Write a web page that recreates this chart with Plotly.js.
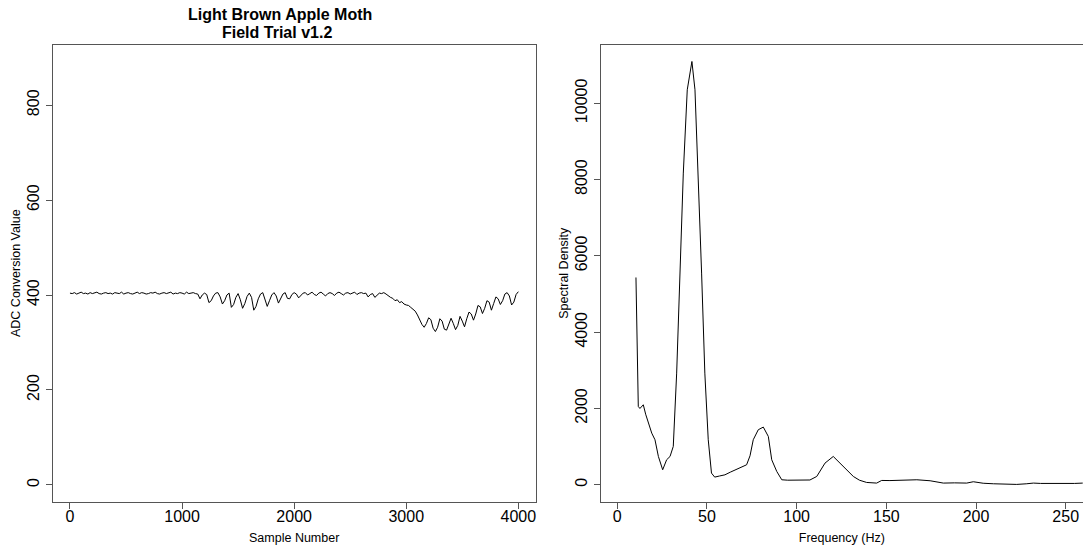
<!DOCTYPE html>
<html>
<head>
<meta charset="utf-8">
<script src="https://cdn.plot.ly/plotly-3.0.1.min.js"></script>
<style>html,body{margin:0;padding:0;background:#fff;}#chart{width:1083px;height:550px;}</style>
</head>
<body>
<div id="chart"></div>
<script>
// Left panel: ADC conversion value per sample
const sampleNumber = [
0,20,40,60,80,100,120,140,160,180,200,220,240,260,280,300,320,340,360,380,
400,420,440,460,480,500,520,540,560,580,600,620,640,660,680,700,720,740,760,780,
800,820,840,860,880,900,920,940,960,980,1000,1020,1040,1060,1080,1100,1120,1140,1160,1180,
1200,1220,1240,1260,1280,1300,1320,1340,1360,1380,1400,1420,1440,1460,1480,1500,1520,1540,1560,1580,
1600,1620,1640,1660,1680,1700,1720,1740,1760,1780,1800,1820,1840,1860,1880,1900,1920,1940,1960,1980,
2000,2020,2040,2060,2080,2100,2120,2140,2160,2180,2200,2220,2240,2260,2280,2300,2320,2340,2360,2380,
2400,2420,2440,2460,2480,2500,2520,2540,2560,2580,2600,2620,2640,2660,2680,2700,2720,2740,2760,2780,
2800,2820,2840,2860,2880,2900,2920,2940,2960,2980,3000,3020,3040,3060,3080,3100,3120,3140,3160,3180,
3200,3220,3240,3260,3280,3300,3320,3340,3360,3380,3400,3420,3440,3460,3480,3500,3520,3540,3560,3580,
3600,3620,3640,3660,3680,3700,3720,3740,3760,3780,3800,3820,3840,3860,3880,3900,3920,3940,3960,3980,
4000
];
const adcValue = [
404,403,405,402,404,406,403,404,402,405,403,404,406,403,402,404,405,403,404,402,
405,404,403,406,402,404,405,403,402,404,406,403,405,404,402,403,405,404,406,403,
402,404,405,403,404,406,402,404,403,405,404,402,406,403,404,405,403,402,392,400,
404,401,384,388,398,404,405,396,381,388,400,404,374,380,395,403,390,372,382,397,
404,395,368,376,392,402,405,390,376,388,400,405,398,383,392,402,405,393,392,401,
405,402,394,398,404,405,400,403,406,401,399,404,406,402,398,403,405,403,399,404,
406,403,400,404,405,402,404,406,401,404,405,403,404,396,401,403,395,400,404,403,
405,402,398,395,393,388,390,384,386,381,379,378,374,370,366,358,348,338,332,340,
352,348,330,323,332,350,345,328,326,340,351,340,327,336,355,345,333,350,364,360,
347,360,378,375,361,372,388,385,368,382,396,392,380,388,402,405,398,379,385,401,
407
];

// Right panel: spectral density per frequency
const frequencyHz = [
10.4,10.9,11.7,12.6,14.5,15.8,17.3,19.2,21.0,22.9,25.3,27.5,29.4,31.2,33.1,35.0,36.8,39.0,41.6,43.3,
45.1,47.0,48.8,50.7,52.5,54.3,57,60,63,66,68.4,70,72.1,74,75.8,78.6,81.4,84.2,86.1,88.9,
91.7,95,100,104,107.4,111.2,115.8,120.4,126,131.6,135,139,144.6,147.4,152,157.6,162,167,174.4,181.8,
188,194.8,198.5,204,209.7,216,222.7,228,232,236,241,245,250,255,259.5
];
const spectralDensity = [
5434,3600,2053,2000,2097,1850,1617,1354,1180,742,393,655,742,1005,2927,5549,8170,10354,11096,10354,
8170,5549,2927,1180,306,201,230,260,330,400,437,480,524,760,1180,1442,1512,1267,655,349,
131,120,115,118,125,218,568,742,480,218,120,61,44,113,110,113,125,131,105,44,
50,44,79,40,26,20,9,25,44,35,30,28,30,35,44
];

const leftTicks = [0,1000,2000,3000,4000];
const leftYTicks = [0,200,400,600,800];
const rightTicks = [0,50,100,150,200,250];
const rightYTicks = [0,2000,4000,6000,8000,10000];
const rightYTickText = ['0','2000','4000','6000','8000','10000'];

const FONT = 'Liberation Sans, Arial, Helvetica, sans-serif';
const W = 1083, H = 550;
const yDom = [(H-501.7)/H, (H-44.7)/H];

const axisCommon = {
  showgrid:false, zeroline:false, showline:true, linecolor:'#555', linewidth:1,
  ticks:'outside', ticklen:6, tickcolor:'#555', tickwidth:1,
  tickfont:{family:FONT, size:16, color:'#000'}, automargin:false, fixedrange:true
};

const traces = [
  {x:sampleNumber, y:adcValue, type:'scatter', mode:'lines', line:{color:'#000', width:1}, xaxis:'x', yaxis:'y', hoverinfo:'skip'},
  {x:frequencyHz, y:spectralDensity, type:'scatter', mode:'lines', line:{color:'#000', width:1}, xaxis:'x2', yaxis:'y2', hoverinfo:'skip'}
];

const titleFont = {family:FONT, size:16, color:'#000'};
const layout = {
  width:W, height:H, margin:{l:0,r:0,t:0,b:0}, showlegend:false,
  paper_bgcolor:'#fff', plot_bgcolor:'#fff',
  font:{family:FONT, color:'#000'},
  annotations:[
    {text:'<b>Light Brown Apple Moth</b>', xref:'paper', yref:'paper', x:280/W, y:1-14/H, xanchor:'center', yanchor:'middle', showarrow:false, font:titleFont},
    {text:'<b>Field Trial v1.2</b>', xref:'paper', yref:'paper', x:277/W, y:1-32/H, xanchor:'center', yanchor:'middle', showarrow:false, font:titleFont}
  ],
  xaxis:Object.assign({}, axisCommon, {domain:[52.7/W, 535.7/W], range:[-154,4155], tickvals:leftTicks, mirror:true, anchor:'y', ticklabelstandoff:-6,
         title:{text:'Sample Number', font:{family:FONT, size:12.5, color:'#000'}, standoff:9}}),
  yaxis:Object.assign({}, axisCommon, {domain:yDom, range:[-35.5,927.4], tickvals:leftYTicks, tickangle:-90, mirror:true, anchor:'x',
         title:{text:'ADC Conversion Value', font:{family:FONT, size:12.5, color:'#000'}, standoff:1}}),
  xaxis2:Object.assign({}, axisCommon, {domain:[600.7/W, 1], range:[-9.26,259.65], tickvals:rightTicks, mirror:true, anchor:'y2', ticklabelstandoff:-6,
         title:{text:'Frequency (Hz)', font:{family:FONT, size:12.5, color:'#000'}, standoff:9}}),
  yaxis2:Object.assign({}, axisCommon, {domain:yDom, range:[-444,11536], tickvals:rightYTicks, ticktext:rightYTickText, tickangle:-90, mirror:false, anchor:'x2',
         title:{text:'Spectral Density', font:{family:FONT, size:12.5, color:'#000'}, standoff:1}})
};

Plotly.newPlot('chart', traces, layout, {staticPlot:true, displayModeBar:false});
</script>
</body>
</html>
